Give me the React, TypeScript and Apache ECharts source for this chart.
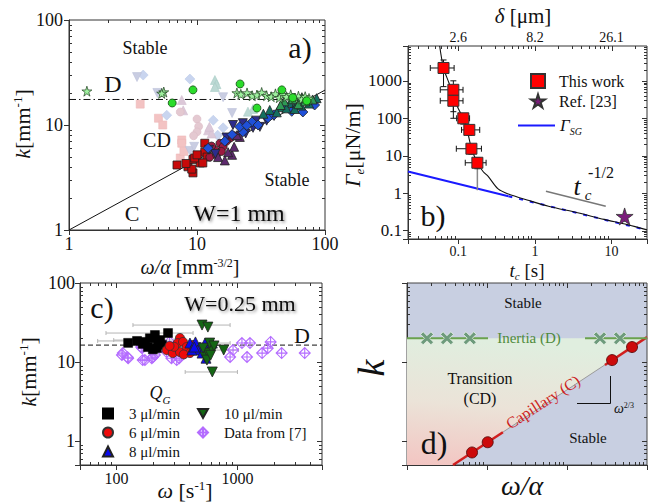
import React, { useEffect, useRef } from 'react';
import * as echarts from 'echarts';

const F = "'Liberation Serif', serif";
const INK = '#111';

// ---------------- Panel a) W = 1 mm : k [mm^-1] vs ω/α [mm^-3/2] ----------------
const aFadedSquares = [[3.6, 15.8], [5.0, 11.6], [5.4, 10.0], [7.6, 7.2], [7.6, 6.7], [7.4, 4.85], [7.9, 5.6]];
const aFadedDiamonds = [[3.8, 29.9], [5.8, 12.4], [8.8, 27.4], [13.4, 11.1], [16, 9.4], [14.5, 8.0]];
const aFadedInvTri = [[3.4, 28.6], [4.9, 20.2], [16, 18.4], [18.8, 13], [8.8, 5.66], [9.5, 6.2]];
const aFadedTri = [[7.6, 17.3], [7.8, 13.8], [12.2, 8.9], [13.0, 8.3], [12.5, 9.6]];
const aFadedCircles = [[7.4, 13.3], [10, 11.4], [10.3, 9.7], [10, 8.6], [9.4, 7.9]];
const aFadedTeal = [[13.8, 26.8], [14.2, 24.5], [13.8, 23], [27.4, 14.2], [25, 13.4]];
const aRedSquares = [[6.98, 4.16], [8.5, 4.0], [9.3, 3.5], [9.1, 3.8], [9.3, 4.7], [10.6, 4.35], [11.5, 5.5], [12, 4.95], [11.5, 6.7], [9.6, 4.85], [11.1, 4.35], [8.2, 4.3], [10.0, 5.2]];
const aCrimsonCircles = [[13.8, 5.8], [15.1, 6.7], [18.1, 7.5], [16, 6.2], [12.6, 4.95], [14.2, 5.2], [17, 7.0], [19.5, 7.9], [13, 6.3], [15.5, 5.6]];
const aPurpleTri = [[18.8, 5.2], [14.6, 4.95], [21.6, 7.7], [17.5, 5.5], [19.5, 6.2], [16.5, 4.6], [20.5, 8.0], [22, 9.0]];
const aNavyInvTri = [[19.1, 10], [22.8, 10.4], [27.4, 9.4], [31, 9.6], [13.9, 5.3], [12.4, 5.8], [17, 7.6], [24, 8.3], [29, 11], [35, 11], [40, 12.2]];
const aBlueDiamonds = [[12.2, 6.0], [22.8, 8.6], [26.9, 10.7], [35.9, 11.7], [46.9, 14.8], [67.2, 13.3], [83, 15.5], [21.5, 9.6], [18.8, 8.1], [30, 10.0], [40, 12.5], [55, 13.5], [16.5, 7.0], [24.5, 9.9]];
const aTealTri = [[37, 13.9], [44.5, 14.8], [53, 16.2], [60, 16.5], [72, 17.3], [86, 18], [42, 13.2], [50, 14.4], [65, 15.3], [33, 12.8], [58, 14.2], [75, 16]];
const aGreenTri = [[48, 16.8], [56, 17.6], [62, 15.8], [70, 16.8], [80, 17.5], [45, 15.5], [66, 18.4]];
const aStars = [[1.38, 21], [5.5, 20.6], [5.3, 20.0], [20.5, 20.2], [22, 19.6], [24.6, 20.2], [27, 19.0], [29.4, 19.3], [32, 20.4], [35, 19.0], [38, 18.6], [41, 19.8], [44, 18.2], [47, 19.5], [50, 18.6], [54, 19.4], [58, 18.0], [62, 18.8], [66, 17.6], [70, 18.6], [75, 17.9]];
const aGreenCircles = [[21.7, 24.6], [9.3, 21.6], [6.4, 16.2], [46, 21.6], [29.4, 14.5], [56, 18.2], [72, 17.0]];
const aLineC = [[1, 1], [100, 21.5]];
const aLineD = [[1, 17.5], [100, 17.5]];

// ---------------- Panel b) Γe [μN/m] vs tc [s] ----------------
// [t, Γ, tLow, tHigh, ΓLow, ΓHigh]
const bThisWork = [
  [0.064, 2200, 0.043, 0.088, 700, 3600],
  [0.086, 575, 0.058, 0.115, 150, 1000],
  [0.086, 293, 0.058, 0.115, 100, 600],
  [0.116, 100, 0.095, 0.14, 70, 130],
  [0.139, 49, 0.11, 0.19, 35, 65],
  [0.148, 15.4, 0.094, 0.2, 11, 20],
  [0.177, 6.5, 0.123, 0.23, 4.5, 9],
];
const bThisWorkGrayErr = [[0.177, 6.5, 0, 0, 1.2, 6.5]];
const bRef23 = [[14.8, 0.24]];
const bRef23Err = [[14.8, 0.24, 0, 0, 0.17, 0.3]];
const bSG = [[0.022, 3.8], [0.45, 0.83]];
const bSGTail = [[0.45, 0.83], [29, 0.104]];
const bFit = [[0.057, 8500], [0.064, 2200], [0.075, 900], [0.086, 400], [0.1, 180], [0.116, 100], [0.13, 50], [0.148, 16], [0.177, 6.5], [0.21, 3.8], [0.245, 2.8], [0.33, 1.3], [0.45, 0.95], [0.81, 0.65], [1.5, 0.45], [3.6, 0.3], [8, 0.2], [16, 0.145], [29, 0.105]];
const bSlope = [[1.39, 1.13], [8.4, 0.45]];
const bDeltaLabels: Record<string, string> = { '-1': '2.6', '0': '8.2', '1': '26.1' };

// ---------------- Panel c) W = 0.25 mm : k vs ω [s^-1] ----------------
const cQ3 = [[148, 18.5], [267, 23.3], [172, 18], [189, 20], [208, 22], [221, 18], [182, 15.5], [216, 15], [238, 16.5], [165, 17], [125, 17.5], [200, 14.5], [230, 19]];
const cQ6 = [[335, 20.2], [260, 14.2], [321, 17.4], [355, 18], [292, 13], [335, 13.4], [380, 15.5], [405, 13], [430, 16.5], [300, 15.6], [360, 12.5], [275, 16]];
const cQ8 = [[405, 17.4], [450, 18], [490, 15.5], [540, 17.4], [470, 14.2], [570, 15], [420, 14.2], [620, 17.4], [550, 11.2], [510, 13], [440, 15.5]];
const cQ10 = [[510, 29.4], [570, 27.7], [770, 14.2], [540, 11.6], [570, 13], [620, 14.2], [590, 17.4], [520, 15], [560, 10.6], [620, 7.5], [600, 12.2], [640, 16]];
const cRef7 = [[111, 12.3], [124, 11.5], [113, 13], [125, 11.2], [163, 15], [172, 10.6], [165, 10.6], [160, 15.5], [196, 11.2], [200, 11.5], [208, 12.3], [260, 13.4], [285, 11.2], [275, 18], [315, 10.6], [330, 11.2], [870, 11.6], [920, 14.2], [1090, 17.4], [1270, 17.4], [1200, 11.6], [1780, 15], [1880, 18], [2320, 13], [3600, 13], [1600, 13]];
const cErr = [[510, 29.4, 137, 870, 0, 0], [267, 23.3, 82, 430, 0, 0], [170, 19, 95, 300, 0, 0], [620, 7.5, 370, 1000, 0, 0], [770, 14.2, 550, 1020, 0, 0], [540, 17.4, 430, 870, 0, 0], [148, 18.5, 70, 260, 0, 0]];
const cLineD = [[50, 16.4], [5000, 16.4]];

// ---------------- Panel d) schematic k vs ω/α ----------------
const dTransition = [[1, 20], [951, 20], [3.76, 0.5], [1, 0.5]];
const dInertiaLeft = [[1, 20], [10.3, 20]];
const dInertiaRight = [[168, 20], [1000, 20]];
const dInertiaMarks = [[1.78, 20], [3.16, 20], [6.1, 20], [259, 20], [460, 20]];
const dCapLine = [[3.76, 0.5], [1000, 20.7]];
const dCapLow = [[3.76, 0.5], [15.8, 1.3]];
const dCapHigh = [[298, 9.2], [1000, 20.7]];
const dCapPoints = [[6.5, 0.72], [10.2, 0.97], [366, 10.6], [650, 15.5]];

// ---------------- helpers ----------------
const STAR = 'path://M0,-1L0.223,-0.307L0.951,-0.309L0.361,0.117L0.588,0.809L0,0.38L-0.588,0.809L-0.361,0.117L-0.951,-0.309L-0.223,-0.307Z';
const INVTRI = 'path://M-1,-0.9L1,-0.9L0,0.9Z';
const XMARK = 'path://M-1,-0.6L-0.6,-1L0,-0.4L0.6,-1L1,-0.6L0.4,0L1,0.6L0.6,1L0,0.4L-0.6,1L-1,0.6L-0.4,0Z';
const CROSSDIA = 'path://M0,-1L1,0L0,1L-1,0Z M-1,0L1,0 M0,-1L0,1';

const decFmt = (v: number) => {
  const l = Math.log10(v);
  if (Math.abs(l - Math.round(l)) > 1e-6) return '';
  return String(parseFloat(v.toPrecision(6)));
};

function logAxis(gridIndex: number, min: number, max: number, o: any = {}) {
  return {
    type: 'log', logBase: 10, gridIndex, min, max, position: o.position,
    axisLine: { show: o.line !== false, lineStyle: { color: '#333', width: 1 } },
    axisTick: { show: o.ticks !== false, inside: false, length: 5, interval: 0, lineStyle: { color: '#333' } },
    minorTick: { show: false },
    splitLine: { show: false },
    axisLabel: {
      show: o.labels !== false, interval: 0, margin: o.margin ?? 6, fontFamily: F, fontSize: o.fs ?? 17, color: INK,
      formatter: o.fmt || decFmt, showMinLabel: true, showMaxLabel: true,
    },
  };
}

function decadeTicks(min: number, max: number, mults: number[]) {
  const out: number[] = [];
  for (let d = Math.floor(Math.log10(min)) - 1; d <= Math.ceil(Math.log10(max)); d++) {
    for (const m of mults) {
      const v = m * Math.pow(10, d);
      if (v > min * 1.001 && v < max * 0.999) out.push(v);
    }
  }
  return out;
}

function tickSeries(xi: number, yi: number, xr: number[], yr: number[]) {
  const items: number[][] = [];
  decadeTicks(xr[0], xr[1], [2, 3, 4, 5, 6, 7, 8, 9]).forEach((v) => items.push([v, yr[0], 0, 3]));
  decadeTicks(xr[0], xr[1], [1]).forEach((v) => items.push([v, yr[0], 2, 5]));
  decadeTicks(yr[0], yr[1], [2, 3, 4, 5, 6, 7, 8, 9]).forEach((v) => items.push([xr[0], v, 1, 3]));
  decadeTicks(yr[0], yr[1], [1]).forEach((v) => items.push([xr[0], v, 3, 5]));
  return {
    type: 'custom', xAxisIndex: xi, yAxisIndex: yi, silent: true, z: 1, clip: false, data: items,
    encode: { x: 0, y: 1 },
    renderItem: (_p: any, api: any) => {
      const kind = api.value(2), len = api.value(3);
      const st = { stroke: '#333', lineWidth: 1 };
      const ch: any[] = [];
      if (kind === 0 || kind === 2) {
        const v = api.value(0);
        const b = api.coord([v, yr[0]]), t = api.coord([v, yr[1]]);
        const x = Math.round(b[0]) + 0.5;
        ch.push({ type: 'line', shape: { x1: x, y1: t[1], x2: x, y2: t[1] + len }, style: st });
        if (kind === 0) ch.push({ type: 'line', shape: { x1: x, y1: b[1], x2: x, y2: b[1] - len }, style: st });
      } else {
        const v = api.value(1);
        const l = api.coord([xr[0], v]), r = api.coord([xr[1], v]);
        const y = Math.round(l[1]) + 0.5;
        ch.push({ type: 'line', shape: { x1: r[0], y1: y, x2: r[0] - len, y2: y }, style: st });
        if (kind === 1) ch.push({ type: 'line', shape: { x1: l[0], y1: y, x2: l[0] + len, y2: y }, style: st });
      }
      return { type: 'group', children: ch };
    },
  };
}

function errSeries(data: number[][], xi: number, yi: number, color: string, cap: number, z: number, w = 1) {
  return {
    type: 'custom', xAxisIndex: xi, yAxisIndex: yi, silent: true, z, data, encode: { x: 0, y: 1 },
    renderItem: (_p: any, api: any) => {
      const x = api.value(0), y = api.value(1);
      const xl = api.value(2), xh = api.value(3), yl = api.value(4), yh = api.value(5);
      const st = { stroke: color, lineWidth: w };
      const ch: any[] = [];
      if (xl > 0) {
        const a = api.coord([xl, y]), b = api.coord([xh, y]);
        ch.push({ type: 'line', shape: { x1: a[0], y1: a[1], x2: b[0], y2: b[1] }, style: st });
        if (cap) {
          ch.push({ type: 'line', shape: { x1: a[0], y1: a[1] - cap, x2: a[0], y2: a[1] + cap }, style: st });
          ch.push({ type: 'line', shape: { x1: b[0], y1: b[1] - cap, x2: b[0], y2: b[1] + cap }, style: st });
        }
      }
      if (yl > 0) {
        const a = api.coord([x, yl]), b = api.coord([x, yh]);
        ch.push({ type: 'line', shape: { x1: a[0], y1: a[1], x2: b[0], y2: b[1] }, style: st });
        if (cap) {
          ch.push({ type: 'line', shape: { x1: a[0] - cap, y1: a[1], x2: a[0] + cap, y2: a[1] }, style: st });
          ch.push({ type: 'line', shape: { x1: b[0] - cap, y1: b[1], x2: b[0] + cap, y2: b[1] }, style: st });
        }
      }
      return { type: 'group', children: ch };
    },
  };
}

function sc(name: string, data: number[][], xi: number, yi: number, symbol: string, size: number, color: string, border: string, bw = 0.8, z = 3) {
  return {
    type: 'scatter', name, data, xAxisIndex: xi, yAxisIndex: yi, symbol, symbolSize: size, silent: true, z,
    itemStyle: { color, borderColor: border, borderWidth: bw, opacity: 1 },
  };
}

function ln(name: string, data: number[][], xi: number, yi: number, color: string, width: number, type: any = 'solid', z = 2, smooth: any = false) {
  return {
    type: 'line', name, data, xAxisIndex: xi, yAxisIndex: yi, showSymbol: false, symbol: 'none', silent: true, z, smooth,
    lineStyle: { color, width, type }, itemStyle: { color },
  };
}

function rich(size: number, color = INK) {
  const s = Math.round(size * 0.6);
  const base = { fontFamily: F, fill: color, color, verticalAlign: 'top' };
  return {
    n: { ...base, fontSize: size, lineHeight: size },
    i: { ...base, fontSize: size, lineHeight: size, fontStyle: 'italic' },
    sup: { ...base, fontSize: s, lineHeight: s },
    sub: { ...base, fontSize: s, lineHeight: s, padding: [Math.round(size * 0.55), 0, 0, 0] },
    subi: { ...base, fontSize: s, lineHeight: s, fontStyle: 'italic', padding: [Math.round(size * 0.55), 0, 0, 0] },
  };
}

function txt(text: string, x: number, y: number, size: number, o: any = {}) {
  const style: any = {
    text, x: 0, y: 0, fill: o.color || INK, fontFamily: F, fontSize: size,
    fontStyle: o.italic ? 'italic' : 'normal',
    align: o.align || 'center', verticalAlign: 'middle',
    textAlign: o.align || 'center', textVerticalAlign: 'middle',
  };
  if (o.rich) style.rich = o.rich;
  if (o.shadow) {
    style.textShadowColor = 'rgba(0,0,0,0.45)';
    style.textShadowBlur = 3;
    style.textShadowOffsetX = 1.5;
    style.textShadowOffsetY = 1.5;
  }
  return { type: 'text', x, y, rotation: o.rot || 0, z: 50, silent: true, style };
}

function gline(x1: number, y1: number, x2: number, y2: number, color = INK, w = 1) {
  return { type: 'line', z: 50, silent: true, shape: { x1, y1, x2, y2 }, style: { stroke: color, lineWidth: w } };
}

// ---------------- option ----------------
function buildOption() {
  const AX = [1, 100], AY = [1, 100];
  const BX = [0.022, 29], BY = [0.06, 8500];
  const CX = [50, 5000], CY = [0.5, 100];
  const DX = [1, 1000], DY = [0.5, 100];

  const grid = (left: number, top: number, width: number, height: number, bg = 'transparent', border = '#333') => ({
    left, top, width, height, show: true, borderColor: border, borderWidth: 1, backgroundColor: bg, outerBoundsMode: 'none', containLabel: false,
  });

  const xAxis = [
    logAxis(0, AX[0], AX[1], { position: 'bottom', margin: 5, fs: 18 }),
    logAxis(1, BX[0], BX[1], { position: 'bottom', margin: 5, fs: 14 }),
    logAxis(1, BX[0], BX[1], {
      position: 'top', margin: 2, fs: 14, ticks: false, line: false,
      fmt: (v: number) => {
        const l = Math.log10(v);
        if (Math.abs(l - Math.round(l)) > 1e-6) return '';
        return bDeltaLabels[String(Math.round(l))] || '';
      },
    }),
    logAxis(2, CX[0], CX[1], { position: 'bottom', margin: 5, fs: 16 }),
    logAxis(3, DX[0], DX[1], { position: 'bottom', labels: false }),
  ];
  const yAxis = [
    logAxis(0, AY[0], AY[1], { position: 'left', margin: 6, fs: 18 }),
    logAxis(1, BY[0], BY[1], { position: 'left', margin: 6, fs: 17 }),
    logAxis(2, CY[0], CY[1], { position: 'left', margin: 5, fs: 18 }),
    logAxis(3, DY[0], DY[1], { position: 'left', labels: false }),
  ];

  const dark = '#222';
  const series: any[] = [
    // ---- a
    tickSeries(0, 0, AX, AY),
    ln('C', aLineC, 0, 0, '#111', 1, 'solid', 2),
    ln('D', aLineD, 0, 0, '#111', 1, [7, 3, 1.5, 3], 2),
    sc('a faded squares', aFadedSquares, 0, 0, 'rect', 8, '#f3c3c3', '#efb9b9', 0.6),
    sc('a faded diamonds', aFadedDiamonds, 0, 0, 'diamond', 10, '#c9d5ef', '#bccbea', 0.6),
    sc('a faded inv triangles', aFadedInvTri, 0, 0, INVTRI, 9, '#c9cde2', '#bcc1da', 0.6),
    sc('a faded triangles', aFadedTri, 0, 0, 'triangle', 9, '#dcc8d8', '#d2bdd0', 0.6),
    sc('a faded circles', aFadedCircles, 0, 0, 'circle', 8, '#e4c9d1', '#dbbcc6', 0.6),
    sc('a faded teal', aFadedTeal, 0, 0, 'triangle', 9, '#bcd9d4', '#a9cdc6', 0.6),
    sc('a red squares', aRedSquares, 0, 0, 'rect', 8, '#c80a0a', dark),
    sc('a crimson circles', aCrimsonCircles, 0, 0, 'circle', 8, '#9c1a40', dark),
    sc('a purple triangles', aPurpleTri, 0, 0, 'triangle', 9, '#5d2a6d', dark),
    sc('a navy inv triangles', aNavyInvTri, 0, 0, INVTRI, 9, '#2c2c8c', dark),
    sc('a blue diamonds', aBlueDiamonds, 0, 0, 'diamond', 10, '#1f50d8', dark),
    sc('a teal triangles', aTealTri, 0, 0, 'triangle', 9, '#137060', dark),
    sc('a green triangles', aGreenTri, 0, 0, 'triangle', 9, '#2f9a55', dark),
    sc('a stars', aStars, 0, 0, STAR, 10, '#9ef09e', '#1d3d1d', 0.7),
    sc('a green circles', aGreenCircles, 0, 0, 'circle', 8, '#2bdc2b', '#145214', 0.8),

    // ---- b
    tickSeries(1, 1, BX, BY),
    ln('ΓSG', bSG, 1, 1, '#1a1aff', 2, 'solid', 2),
    ln('ΓSG tail', bSGTail, 1, 1, '#1a1aff', 2, [4, 7], 2),
    ln('fit', bFit, 1, 1, '#111', 1.1, 'solid', 3, 0.3),
    ln('slope', bSlope, 1, 1, '#777', 1.5, 'solid', 2),
    errSeries(bThisWorkGrayErr, 1, 1, '#888', 0, 3, 1.5),
    errSeries(bThisWork, 1, 1, '#111', 3, 4),
    errSeries(bRef23Err, 1, 1, '#555', 0, 4),
    sc('This work', bThisWork.map((r) => [r[0], r[1]]), 1, 1, 'rect', 11, '#ff0000', '#333', 1, 5),
    sc('Ref. [23]', bRef23, 1, 1, STAR, 17, '#7b1c7b', '#333', 0.8, 5),

    // ---- c
    tickSeries(3, 2, CX, CY),
    ln('D c', cLineD, 3, 2, '#111', 1, [5, 3], 2),
    errSeries(cErr, 3, 2, '#b5b5b5', 2, 2),
    sc('Data from [7]', cRef7, 3, 2, CROSSDIA, 11, 'rgba(0,0,0,0)', '#b46cff', 1.1, 3),
    sc('3 μl/min', cQ3, 3, 2, 'rect', 9, '#000000', '#000', 0.5, 4),
    sc('6 μl/min', cQ6, 3, 2, 'circle', 9, '#ee0a0a', '#333', 0.8, 4),
    sc('8 μl/min', cQ8, 3, 2, 'triangle', 10, '#0a0aee', '#222', 0.8, 4),
    sc('10 μl/min', cQ10, 3, 2, INVTRI, 10, '#146614', '#222', 0.8, 4),

    // ---- d
    tickSeries(4, 3, DX, DY),
    {
      type: 'custom', xAxisIndex: 4, yAxisIndex: 3, silent: true, z: 1, data: [[1, 1]], encode: { x: 0, y: 1 },
      renderItem: (_p: any, api: any) => ({
        type: 'polygon',
        shape: { points: dTransition.map((p) => api.coord(p)) },
        style: {
          fill: new echarts.graphic.LinearGradient(0.15, 0, 0, 1, [
            { offset: 0, color: '#e0eedf' },
            { offset: 0.5, color: '#ebe3d8' },
            { offset: 1, color: '#f3c5c2' },
          ]),
        },
      }),
    },
    ln('cap gray', dCapLine, 4, 3, '#9a9a9a', 1, 'solid', 2),
    ln('cap low', dCapLow, 4, 3, '#d11f1f', 2.5, 'solid', 3),
    ln('cap high', dCapHigh, 4, 3, '#d11f1f', 2.5, 'solid', 3),
    ln('inertia left', dInertiaLeft, 4, 3, '#6aa24e', 2, 'solid', 3),
    ln('inertia right', dInertiaRight, 4, 3, '#6aa24e', 2, 'solid', 3),
    sc('inertia marks', dInertiaMarks, 4, 3, XMARK, 13, '#6e9b7c', '#e8f2e8', 0.8, 4),
    sc('capillary points', dCapPoints, 4, 3, 'circle', 11, '#cc0a0a', '#5a1010', 0.9, 4),
  ];

  const legendText = { fontFamily: F, fontSize: 16, color: INK, padding: [0, 0, 0, 9] };
  const legend = [
    {
      data: ['This work', 'Ref. [23]'], left: 530, top: 73, orient: 'vertical', itemWidth: 14, itemHeight: 14,
      itemGap: 4, padding: 0, selectedMode: false, textStyle: legendText,
    },
    {
      data: [{ name: 'ΓSG', icon: 'rect', itemStyle: { color: '#1a1aff', borderWidth: 0 } }],
      left: 518, top: 117, orient: 'vertical', itemWidth: 37, itemHeight: 2, padding: 0, selectedMode: false,
      formatter: () => '{g|Γ}{s|SG}',
      textStyle: {
        fontFamily: F, fontSize: 17, color: INK,
        rich: {
          g: { fontFamily: F, fontSize: 17, fontStyle: 'italic', color: INK, verticalAlign: 'top', lineHeight: 17 },
          s: { fontFamily: F, fontSize: 10, fontStyle: 'italic', color: INK, verticalAlign: 'top', lineHeight: 10, padding: [9, 0, 0, 0] },
        },
      },
    },
    {
      data: ['3 μl/min', '6 μl/min', '8 μl/min'], left: 102, top: 406, orient: 'vertical', itemWidth: 10, itemHeight: 10,
      itemGap: 4, padding: 0, selectedMode: false, textStyle: { fontFamily: F, fontSize: 15, color: INK, padding: [0, 0, 0, 11] },
    },
    {
      data: ['10 μl/min', 'Data from [7]'], left: 197, top: 406, orient: 'vertical', itemWidth: 10, itemHeight: 10,
      itemGap: 4, padding: 0, selectedMode: false, textStyle: { fontFamily: F, fontSize: 15, color: INK, padding: [0, 0, 0, 11] },
    },
  ];

  const graphic = [
    // a
    txt('Stable', 145, 48, 18),
    txt('a)', 300, 47, 30),
    txt('D', 113, 84, 24),
    txt('CD', 157, 140, 20),
    txt('Stable', 287, 180, 18),
    txt('C', 132, 213, 22),
    txt('W=1 mm', 239, 213, 24, { shadow: true }),
    txt('{i|k}{n|[mm}{sup|-1}{n|]}', 22, 124, 22, { rot: Math.PI / 2, rich: rich(22) }),
    txt('{i|ω/α}{n| [mm}{sup|-3/2}{n|]}', 190, 267, 20, { rich: rich(20) }),
    // b
    txt('{i|δ}{n| [μm]}', 523, 16, 21, { rich: rich(21) }),
    txt('{i|Γ}{subi|e}{n|[μN/m]}', 352, 145, 22, { rot: Math.PI / 2, rich: rich(22) }),
    txt('{i|t}{subi|c}{n| [s]}', 527, 270, 19, { rich: rich(19) }),
    txt('b)', 433, 215, 30),
    txt('t', 577, 186, 26, { italic: true }),
    txt('c', 588, 195, 15, { italic: true }),
    txt('-1/2', 601, 172, 16),
    // c
    txt('c)', 102, 307, 30),
    txt('W=0.25 mm', 240, 303, 22, { shadow: true }),
    txt('D', 302, 335, 22),
    txt('{i|Q}{subi|G}', 160, 393, 18, { rich: rich(18) }),
    txt('{i|k}{n|[mm}{sup|-1}{n|]}', 28, 372, 22, { rot: Math.PI / 2, rich: rich(22) }),
    txt('{i|ω}{n| [s}{sup|-1}{n|]}', 185, 490, 22, { rich: rich(22) }),
    // d
    txt('Stable', 523, 303, 15),
    txt('Inertia (D)', 529, 338, 15, { color: '#4f8a3c' }),
    txt('Transition', 480, 378, 16),
    txt('(CD)', 480, 398, 16),
    txt('Capillary (C)', 543, 402, 16, { color: '#cc1f1f', rot: (33 * Math.PI) / 180 }),
    txt('Stable', 588, 438, 15),
    txt('d)', 434, 443, 32),
    txt('{i|ω}{sup|2/3}', 624, 408, 14, { rich: rich(14) }),
    gline(610.5, 376, 610.5, 403.5),
    gline(577, 403.5, 610.5, 403.5),
    txt('k', 371, 368, 38, { italic: true, rot: Math.PI / 2 }),
    txt('ω/α', 522, 485, 28, { italic: true }),
  ];

  return {
    animation: false,
    backgroundColor: '#ffffff',
    grid: [
      grid(69, 20, 256, 210),
      grid(408, 46, 239, 193),
      grid(80, 283, 242, 182),
      grid(407, 283, 240, 182, '#c8cfe1', '#444'),
    ],
    xAxis,
    yAxis,
    legend,
    series,
    graphic,
  };
}

export default function App() {
  const ref = useRef<HTMLDivElement>(null);
  useEffect(() => {
    if (!ref.current) return;
    const chart = echarts.init(ref.current, null, { renderer: 'svg' });
    chart.setOption(buildOption() as any);
    return () => chart.dispose();
  }, []);
  return (
    <div
      ref={ref}
      style={{ position: 'absolute', left: 0, top: 0, width: 648, height: 502, background: '#fff' }}
    />
  );
}
